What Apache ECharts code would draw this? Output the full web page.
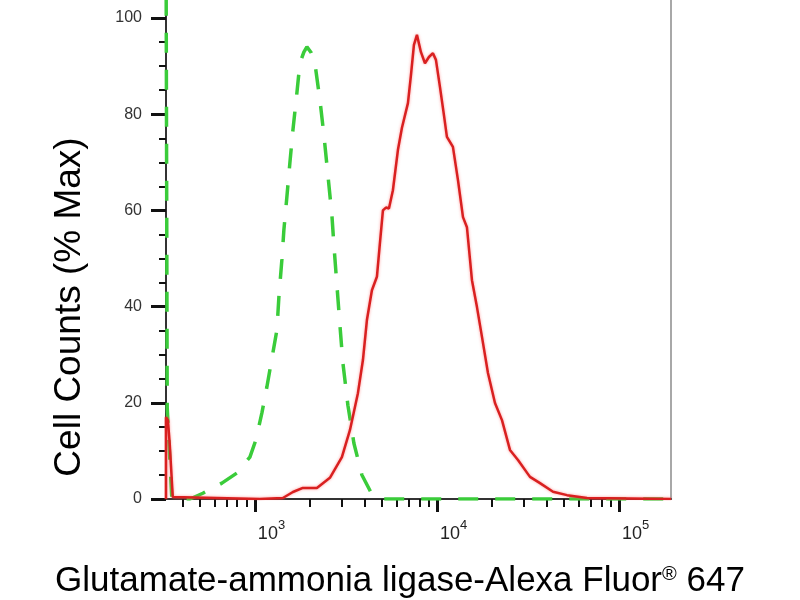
<!DOCTYPE html>
<html>
<head>
<meta charset="utf-8">
<title>Cell Counts (% Max)</title>
<script src="https://cdn.jsdelivr.net/npm/echarts@6.0.0/dist/echarts.min.js"></script>
<style>
html,body{margin:0;padding:0;background:#fff;}
#echarts{width:800px;height:600px;}
</style>
</head>
<body>
<div id="echarts"></div>
<script>
//control (green dashed)
var greenX = [325, 330, 350, 440, 518, 659, 796, 939, 1013, 1093, 1164, 1256, 1321, 1355, 1407, 1443, 1499, 1557, 1618, 1701, 1767, 1858, 1931, 2031, 2136, 2276, 2394, 2518, 2649, 2717, 2822, 2931, 3044, 3243, 3499, 3872, 4394, 4862, 193000];
var greenY = [120, 19, 0, 0, 1.2, 3.3, 5.4, 8.7, 12.3, 17.9, 23.3, 30.4, 35.1, 42, 49.7, 55.9, 62.8, 69.9, 76.7, 84.4, 90.6, 92.9, 94, 92.9, 90.6, 83, 75.7, 67.4, 59, 52.8, 44.5, 36.2, 28.3, 19.5, 11.6, 5, 1, 0, 0];

//sample (red)
var redX = [325, 325, 333, 341, 354, 1065, 1425, 1618, 1835, 2191, 2583, 3006, 3327, 3681, 3922, 4125, 4394, 4680, 4862, 5051, 5246, 5450, 5730, 6107, 6424, 6930, 7197, 7476, 7766, 8170, 8594, 9037, 9506, 9874, 10387, 10926, 11346, 12240, 13048, 13900, 14613, 15572, 16590, 17674, 19064, 20833, 22760, 25180, 27870, 32430, 36810, 43400, 51800, 66700, 193000];
var redY = [0, 17, 16.4, 11.2, 0.4, 0, 0.2, 1.45, 2.3, 2.3, 4.4, 8.7, 14.3, 22, 28.9, 37.2, 43.4, 46.2, 53.2, 60, 60.6, 60.4, 64.2, 72.6, 77.2, 82.3, 88.1, 94.4, 96.5, 92.9, 90.6, 91.9, 92.7, 91.3, 85.7, 79.8, 75.3, 73.2, 66.3, 58.6, 56.5, 45.5, 39.9, 33.7, 26.2, 19.95, 16.4, 10.2, 8.1, 4.6, 3.3, 1.5, 0.8, 0.2, 0];

//axis ticks
var xMin = 325, xMax = 193000;
var xMajorTicks = [1000, 10000, 100000];
var xMajorExp = ['3', '4', '5'];
var xMinorTicks = [400, 500, 600, 700, 800, 900, 2000, 3000, 4000, 5000, 6000, 7000, 8000, 9000, 20000, 30000, 40000, 50000, 60000, 70000, 80000, 90000];
var yMin = 0, yMax = 103.75;
var yMajorTicks = [0, 20, 40, 60, 80, 100];
var yMinorTicks = [5, 10, 15, 25, 30, 35, 45, 50, 55, 65, 70, 75, 85, 90, 95];

function toPairs(xs, ys){
	var arr = [];
	for(var i = 0; i < xs.length; i++){
		arr.push([xs[i], ys[i]]);
	}
	return arr;
}

var fontMain = "'Liberation Sans', Arial, sans-serif";
var fontNarrow = "'Liberation Sans Narrow', 'Liberation Sans', sans-serif";

option = {
	backgroundColor: '#fff',
	animation: false,
	grid: {left: 166, right: 129, top: 0, bottom: 101},
	xAxis: [{
		type: 'log',
		min: xMin,
		max: xMax,
		position: 'bottom',
		axisLine: {lineStyle: {color: '#333', width: 2}},
		axisTick: {customValues: xMajorTicks, length: 13, lineStyle: {color: '#111', width: 3}},
		axisLabel: {
			customValues: xMajorTicks,
			align: 'left',
			margin: 23,
			formatter: function(value, index){
				var i = xMajorTicks.indexOf(Math.round(value));
				if(i < 0) i = index;
				return '{b|10}{s|' + xMajorExp[i] + '}';
			},
			rich: {
				b: {fontSize: 18, lineHeight: 18, padding: [6, 0, 0, 3], color: '#222', fontFamily: fontNarrow},
				s: {fontSize: 13, lineHeight: 13, padding: [0, 0, 11, 0], color: '#222', fontFamily: fontNarrow}
			}
		},
		splitLine: {show: false}
	}, {
		//minor ticks
		type: 'log',
		min: xMin,
		max: xMax,
		position: 'bottom',
		axisLine: {show: false},
		axisTick: {customValues: xMinorTicks, length: 8, lineStyle: {color: '#111', width: 2}},
		axisLabel: {show: false},
		splitLine: {show: false}
	}],
	yAxis: [{
		type: 'value',
		min: yMin,
		max: yMax,
		position: 'left',
		axisLine: {show: true, lineStyle: {color: '#333', width: 2}},
		axisTick: {show: true, customValues: yMajorTicks, length: 15, lineStyle: {color: '#111', width: 3}},
		axisLabel: {
			customValues: yMajorTicks,
			margin: 24,
			fontSize: 16,
			color: '#333',
			fontFamily: fontMain
		},
		splitLine: {show: false}
	}, {
		//minor ticks
		type: 'value',
		min: yMin,
		max: yMax,
		position: 'left',
		offset: 0,
		axisLine: {show: false},
		axisTick: {show: true, customValues: yMinorTicks, length: 7, lineStyle: {color: '#111', width: 2}},
		axisLabel: {show: false},
		splitLine: {show: false}
	}, {
		type: 'value',
		min: yMin,
		max: yMax,
		position: 'right',
		axisLine: {show: true, lineStyle: {color: '#a8a8a8', width: 2}},
		axisTick: {show: false},
		axisLabel: {show: false},
		splitLine: {show: false}
	}],
	graphic: [{
		type: 'text',
		x: 70,
		y: 307,
		rotation: Math.PI / 2,
		style: {
			text: 'Cell Counts (% Max)',
			fontSize: 37,
			fontFamily: fontMain,
			fill: '#000',
			align: 'center',
			verticalAlign: 'middle'
		}
	}, {
		type: 'text',
		x: 400,
		y: 581,
		style: {
			text: '{t|Glutamate-ammonia ligase-Alexa Fluor}{r|®}{t| 647}',
			align: 'center',
			verticalAlign: 'middle',
			rich: {
				t: {fontSize: 35, lineHeight: 40, fill: '#000', fontFamily: fontMain},
				r: {fontSize: 20, lineHeight: 20, padding: [0, 0, 14, 0], fill: '#000', fontFamily: fontMain}
			}
		}
	}],
	series: [{
		type: 'line',
		name: 'Control',
		xAxisIndex: 0,
		yAxisIndex: 0,
		data: toPairs(greenX, greenY),
		symbol: 'none',
		z: 3,
		lineStyle: {color: '#3acc3a', width: 3.5, type: [20, 17]}
	}, {
		type: 'line',
		name: 'Glutamate-ammonia ligase',
		xAxisIndex: 0,
		yAxisIndex: 0,
		data: toPairs(redX, redY),
		symbol: 'none',
		z: 4,
		lineStyle: {color: '#d92020', width: 2.5, shadowColor: 'rgba(255,90,90,0.6)', shadowBlur: 3}
	}]
};
var myChart = echarts.init(document.getElementById('echarts'));
myChart.setOption(option, true);
</script>
</body>
</html>
